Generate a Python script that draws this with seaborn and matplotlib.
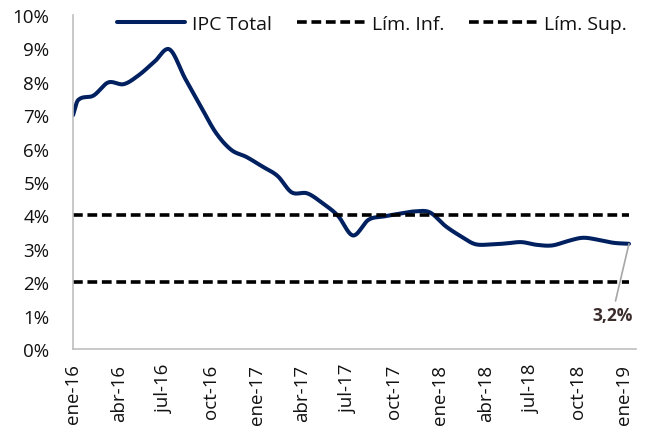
import numpy as np
import pandas as pd
import matplotlib
matplotlib.use("Agg")
import matplotlib.pyplot as plt
import matplotlib.dates as mdates
import seaborn as sns

# ---- data ----
dates = ["2016-01-01"] + [d.strftime("%Y-%m-%d") for d in
                          (pd.date_range("2016-01-01", "2019-01-01", freq="MS") + pd.Timedelta(days=10))]
ipc_total = [7.00,
             7.45, 7.59, 7.98, 7.93, 8.20, 8.60, 8.97, 8.10, 7.27, 6.48, 5.96, 5.75,
             5.47, 5.18, 4.69, 4.66, 4.37, 3.99, 3.40, 3.87, 3.97, 4.05, 4.12, 4.09,
             3.68, 3.37, 3.14, 3.13, 3.16, 3.20, 3.12, 3.10, 3.23, 3.33, 3.27, 3.18,
             3.15]
lim_inf = [2.0] * len(dates)
lim_sup = [4.0] * len(dates)
tick_dates = pd.date_range("2016-01-01", "2019-01-01", freq="3MS")
tick_labels = ["ene-16", "abr-16", "jul-16", "oct-16", "ene-17", "abr-17", "jul-17",
               "oct-17", "ene-18", "abr-18", "jul-18", "oct-18", "ene-19"]
last_label = "3,2%"

# ---- helpers ----
def smooth(x, y, n=24):
    """Excel-like smoothed line: cubic Hermite through the points, drawn densely."""
    x = np.asarray(x, float); y = np.asarray(y, float)
    m = np.empty_like(y)
    m[1:-1] = (y[2:] - y[:-2]) / (x[2:] - x[:-2])
    m[0] = (y[1] - y[0]) / (x[1] - x[0])
    m[-1] = (y[-1] - y[-2]) / (x[-1] - x[-2])
    xs, ys = [], []
    t = np.linspace(0, 1, n, endpoint=False)
    for i in range(len(x) - 1):
        h = x[i + 1] - x[i]
        h00 = 2*t**3 - 3*t**2 + 1; h10 = t**3 - 2*t**2 + t
        h01 = -2*t**3 + 3*t**2; h11 = t**3 - t**2
        xs.extend(x[i] + t * h)
        ys.extend(h00*y[i] + h10*h*m[i] + h01*y[i + 1] + h11*h*m[i + 1])
    xs.append(x[-1]); ys.append(y[-1])
    return np.array(xs), np.array(ys)

sns.set_theme(style="white")
plt.rcParams["font.family"] = ["Open Sans", "DejaVu Sans"]

fig = plt.figure(figsize=(6.49, 4.31), dpi=100)
ax = fig.add_axes([73/649, 1 - 350/431, (636 - 73)/649, (350 - 16)/431])

xnum = mdates.date2num(pd.to_datetime(dates))
sx, sy = smooth(xnum, ipc_total)
df_ipc = pd.DataFrame({"x": sx, "y": sy})
df_lim = pd.DataFrame({"x": xnum, "inf": lim_inf, "sup": lim_sup})

navy = "#002060"
sns.lineplot(data=df_ipc, x="x", y="y", ax=ax, color=navy, lw=2.9, label="IPC Total",
             sort=False, solid_capstyle="round")
sns.lineplot(data=df_lim, x="x", y="inf", ax=ax, color="black", lw=2.6, label="Lím. Inf.",
             linestyle=(0, (2.7, 1.3)))
sns.lineplot(data=df_lim, x="x", y="sup", ax=ax, color="black", lw=2.6, label="Lím. Sup.",
             linestyle=(0, (2.7, 1.3)))

ax.set_xlim(mdates.date2num(pd.Timestamp("2016-01-01")), mdates.date2num(pd.Timestamp("2019-01-25")))
ax.set_ylim(0, 10)
ax.set_yticks(range(0, 11))
ax.set_yticklabels([f"{v}%" for v in range(0, 11)])
ax.set_xticks(mdates.date2num(tick_dates))
ax.set_xticklabels(tick_labels, rotation=90)
ax.set_xlabel(""); ax.set_ylabel("")

for s in ("top", "right"):
    ax.spines[s].set_visible(False)
for s in ("left", "bottom"):
    ax.spines[s].set_color("#bfbfbf")
    ax.spines[s].set_linewidth(1.2)
ax.tick_params(axis="both", which="major", direction="out", width=1.2,
               color="#bfbfbf", labelsize=13.5, labelcolor="#111111")
ax.tick_params(axis="y", length=5, pad=12)
ax.tick_params(axis="x", length=5, pad=5.5)

ax.annotate(last_label, xy=(xnum[-1], ipc_total[-1]), xytext=(-12, -51),
            textcoords="offset points", ha="center", va="center",
            fontsize=12.5, fontweight="bold", color="#3b2d2b",
            arrowprops=dict(arrowstyle="-", color="#a6a6a6", lw=1.2, shrinkA=1, shrinkB=0))

leg = ax.legend(loc="center", bbox_to_anchor=(372/649, 1 - 25/431), bbox_transform=fig.transFigure,
                ncol=3, frameon=False, fontsize=14, handlelength=3.5, handletextpad=0.35,
                columnspacing=1.3)
for t in leg.get_texts():
    t.set_color("#111111")

fig.savefig("out.png", dpi=100)
